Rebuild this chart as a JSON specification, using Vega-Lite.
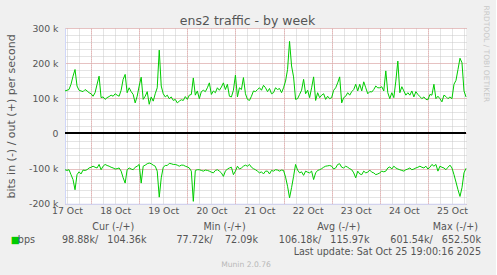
{
"$schema": "https://vega.github.io/schema/vega-lite/v6.json",
"background": "#F0F0F0",
"padding": {"left": 5, "top": 5, "right": 6, "bottom": 7},
"config": {"font": "DejaVu Sans", "view": {"stroke": null}},
"spacing": 23,
"bounds": "flush",
"datasets": {
"traffic": [
{"t":"2025-10-17T11:00","out":121,"in":-103},{"t":"2025-10-17T12:00","out":123,"in":-105},{"t":"2025-10-17T13:00","out":125,"in":-103},{"t":"2025-10-17T14:00","out":140,"in":-117},{"t":"2025-10-17T15:00","out":163,"in":-131},{"t":"2025-10-17T16:00","out":182,"in":-160},{"t":"2025-10-17T17:00","out":135,"in":-117},{"t":"2025-10-17T18:00","out":123,"in":-109},{"t":"2025-10-17T19:00","out":121,"in":-115},{"t":"2025-10-17T20:00","out":119,"in":-104},{"t":"2025-10-17T21:00","out":125,"in":-105},{"t":"2025-10-17T22:00","out":121,"in":-103},{"t":"2025-10-17T23:00","out":116,"in":-98},
{"t":"2025-10-18T00:00","out":113,"in":-96},{"t":"2025-10-18T01:00","out":106,"in":-93},{"t":"2025-10-18T02:00","out":116,"in":-96},{"t":"2025-10-18T03:00","out":140,"in":-98},{"t":"2025-10-18T04:00","out":163,"in":-88},{"t":"2025-10-18T05:00","out":102,"in":-103},{"t":"2025-10-18T06:00","out":104,"in":-93},{"t":"2025-10-18T07:00","out":97,"in":-88},{"t":"2025-10-18T08:00","out":102,"in":-91},{"t":"2025-10-18T09:00","out":105,"in":-93},{"t":"2025-10-18T10:00","out":109,"in":-96},{"t":"2025-10-18T11:00","out":106,"in":-98},{"t":"2025-10-18T12:00","out":113,"in":-101},{"t":"2025-10-18T13:00","out":109,"in":-100},{"t":"2025-10-18T14:00","out":106,"in":-98},{"t":"2025-10-18T15:00","out":123,"in":-107},{"t":"2025-10-18T16:00","out":154,"in":-126},{"t":"2025-10-18T17:00","out":168,"in":-141},{"t":"2025-10-18T18:00","out":116,"in":-103},{"t":"2025-10-18T19:00","out":130,"in":-98},{"t":"2025-10-18T20:00","out":119,"in":-101},{"t":"2025-10-18T21:00","out":111,"in":-103},{"t":"2025-10-18T22:00","out":87,"in":-96},{"t":"2025-10-18T23:00","out":106,"in":-93},
{"t":"2025-10-19T00:00","out":135,"in":-88},{"t":"2025-10-19T01:00","out":160,"in":-141},{"t":"2025-10-19T02:00","out":97,"in":-93},{"t":"2025-10-19T03:00","out":106,"in":-90},{"t":"2025-10-19T04:00","out":119,"in":-86},{"t":"2025-10-19T05:00","out":83,"in":-84},{"t":"2025-10-19T06:00","out":104,"in":-86},{"t":"2025-10-19T07:00","out":92,"in":-90},{"t":"2025-10-19T08:00","out":113,"in":-93},{"t":"2025-10-19T09:00","out":130,"in":-107},{"t":"2025-10-19T10:00","out":237,"in":-181},{"t":"2025-10-19T11:00","out":135,"in":-126},{"t":"2025-10-19T12:00","out":113,"in":-96},{"t":"2025-10-19T13:00","out":104,"in":-91},{"t":"2025-10-19T14:00","out":109,"in":-91},{"t":"2025-10-19T15:00","out":99,"in":-85},{"t":"2025-10-19T16:00","out":104,"in":-86},{"t":"2025-10-19T17:00","out":94,"in":-88},{"t":"2025-10-19T18:00","out":97,"in":-88},{"t":"2025-10-19T19:00","out":87,"in":-90},{"t":"2025-10-19T20:00","out":92,"in":-93},{"t":"2025-10-19T21:00","out":96,"in":-90},{"t":"2025-10-19T22:00","out":94,"in":-90},{"t":"2025-10-19T23:00","out":105,"in":-93},
{"t":"2025-10-20T00:00","out":97,"in":-95},{"t":"2025-10-20T01:00","out":109,"in":-98},{"t":"2025-10-20T02:00","out":111,"in":-107},{"t":"2025-10-20T03:00","out":158,"in":-193},{"t":"2025-10-20T04:00","out":109,"in":-105},{"t":"2025-10-20T05:00","out":121,"in":-103},{"t":"2025-10-20T06:00","out":99,"in":-103},{"t":"2025-10-20T07:00","out":119,"in":-105},{"t":"2025-10-20T08:00","out":123,"in":-107},{"t":"2025-10-20T09:00","out":119,"in":-104},{"t":"2025-10-20T10:00","out":130,"in":-105},{"t":"2025-10-20T11:00","out":144,"in":-107},{"t":"2025-10-20T12:00","out":111,"in":-110},{"t":"2025-10-20T13:00","out":121,"in":-112},{"t":"2025-10-20T14:00","out":116,"in":-105},{"t":"2025-10-20T15:00","out":130,"in":-103},{"t":"2025-10-20T16:00","out":123,"in":-107},{"t":"2025-10-20T17:00","out":132,"in":-112},{"t":"2025-10-20T18:00","out":144,"in":-122},{"t":"2025-10-20T19:00","out":125,"in":-107},{"t":"2025-10-20T20:00","out":140,"in":-101},{"t":"2025-10-20T21:00","out":106,"in":-98},{"t":"2025-10-20T22:00","out":104,"in":-96},{"t":"2025-10-20T23:00","out":123,"in":-117},
{"t":"2025-10-21T00:00","out":166,"in":-107},{"t":"2025-10-21T01:00","out":104,"in":-93},{"t":"2025-10-21T02:00","out":130,"in":-101},{"t":"2025-10-21T03:00","out":125,"in":-98},{"t":"2025-10-21T04:00","out":159,"in":-93},{"t":"2025-10-21T05:00","out":113,"in":-90},{"t":"2025-10-21T06:00","out":97,"in":-93},{"t":"2025-10-21T07:00","out":94,"in":-88},{"t":"2025-10-21T08:00","out":106,"in":-96},{"t":"2025-10-21T09:00","out":121,"in":-100},{"t":"2025-10-21T10:00","out":119,"in":-103},{"t":"2025-10-21T11:00","out":125,"in":-107},{"t":"2025-10-21T12:00","out":130,"in":-112},{"t":"2025-10-21T13:00","out":123,"in":-109},{"t":"2025-10-21T14:00","out":137,"in":-115},{"t":"2025-10-21T15:00","out":130,"in":-107},{"t":"2025-10-21T16:00","out":119,"in":-107},{"t":"2025-10-21T17:00","out":128,"in":-115},{"t":"2025-10-21T18:00","out":113,"in":-105},{"t":"2025-10-21T19:00","out":116,"in":-107},{"t":"2025-10-21T20:00","out":130,"in":-103},{"t":"2025-10-21T21:00","out":125,"in":-104},{"t":"2025-10-21T22:00","out":128,"in":-107},{"t":"2025-10-21T23:00","out":116,"in":-104},
{"t":"2025-10-22T00:00","out":130,"in":-105},{"t":"2025-10-22T01:00","out":149,"in":-124},{"t":"2025-10-22T02:00","out":182,"in":-150},{"t":"2025-10-22T03:00","out":262,"in":-183},{"t":"2025-10-22T04:00","out":192,"in":-154},{"t":"2025-10-22T05:00","out":161,"in":-122},{"t":"2025-10-22T06:00","out":97,"in":-88},{"t":"2025-10-22T07:00","out":99,"in":-104},{"t":"2025-10-22T08:00","out":111,"in":-112},{"t":"2025-10-22T09:00","out":123,"in":-109},{"t":"2025-10-22T10:00","out":154,"in":-119},{"t":"2025-10-22T11:00","out":113,"in":-107},{"t":"2025-10-22T12:00","out":123,"in":-110},{"t":"2025-10-22T13:00","out":102,"in":-112},{"t":"2025-10-22T14:00","out":130,"in":-107},{"t":"2025-10-22T15:00","out":161,"in":-131},{"t":"2025-10-22T16:00","out":94,"in":-112},{"t":"2025-10-22T17:00","out":116,"in":-105},{"t":"2025-10-22T18:00","out":102,"in":-103},{"t":"2025-10-22T19:00","out":109,"in":-100},{"t":"2025-10-22T20:00","out":113,"in":-96},{"t":"2025-10-22T21:00","out":97,"in":-93},{"t":"2025-10-22T22:00","out":106,"in":-92},{"t":"2025-10-22T23:00","out":99,"in":-91},
{"t":"2025-10-23T00:00","out":102,"in":-93},{"t":"2025-10-23T01:00","out":123,"in":-101},{"t":"2025-10-23T02:00","out":130,"in":-98},{"t":"2025-10-23T03:00","out":144,"in":-88},{"t":"2025-10-23T04:00","out":161,"in":-86},{"t":"2025-10-23T05:00","out":87,"in":-96},{"t":"2025-10-23T06:00","out":102,"in":-98},{"t":"2025-10-23T07:00","out":106,"in":-93},{"t":"2025-10-23T08:00","out":116,"in":-96},{"t":"2025-10-23T09:00","out":109,"in":-100},{"t":"2025-10-23T10:00","out":119,"in":-103},{"t":"2025-10-23T11:00","out":125,"in":-112},{"t":"2025-10-23T12:00","out":140,"in":-126},{"t":"2025-10-23T13:00","out":121,"in":-107},{"t":"2025-10-23T14:00","out":140,"in":-115},{"t":"2025-10-23T15:00","out":121,"in":-117},{"t":"2025-10-23T16:00","out":147,"in":-107},{"t":"2025-10-23T17:00","out":130,"in":-112},{"t":"2025-10-23T18:00","out":113,"in":-110},{"t":"2025-10-23T19:00","out":119,"in":-104},{"t":"2025-10-23T20:00","out":118,"in":-110},{"t":"2025-10-23T21:00","out":125,"in":-112},{"t":"2025-10-23T22:00","out":135,"in":-117},{"t":"2025-10-23T23:00","out":130,"in":-115},
{"t":"2025-10-24T00:00","out":130,"in":-112},{"t":"2025-10-24T01:00","out":133,"in":-107},{"t":"2025-10-24T02:00","out":121,"in":-109},{"t":"2025-10-24T03:00","out":178,"in":-107},{"t":"2025-10-24T04:00","out":116,"in":-98},{"t":"2025-10-24T05:00","out":99,"in":-95},{"t":"2025-10-24T06:00","out":116,"in":-101},{"t":"2025-10-24T07:00","out":102,"in":-93},{"t":"2025-10-24T08:00","out":149,"in":-98},{"t":"2025-10-24T09:00","out":206,"in":-101},{"t":"2025-10-24T10:00","out":116,"in":-103},{"t":"2025-10-24T11:00","out":133,"in":-105},{"t":"2025-10-24T12:00","out":121,"in":-107},{"t":"2025-10-24T13:00","out":109,"in":-103},{"t":"2025-10-24T14:00","out":116,"in":-101},{"t":"2025-10-24T15:00","out":109,"in":-98},{"t":"2025-10-24T16:00","out":121,"in":-103},{"t":"2025-10-24T17:00","out":104,"in":-101},{"t":"2025-10-24T18:00","out":119,"in":-98},{"t":"2025-10-24T19:00","out":111,"in":-96},{"t":"2025-10-24T20:00","out":105,"in":-93},{"t":"2025-10-24T21:00","out":99,"in":-96},{"t":"2025-10-24T22:00","out":104,"in":-98},{"t":"2025-10-24T23:00","out":97,"in":-93},
{"t":"2025-10-25T00:00","out":96,"in":-101},{"t":"2025-10-25T01:00","out":111,"in":-96},{"t":"2025-10-25T02:00","out":109,"in":-88},{"t":"2025-10-25T03:00","out":140,"in":-93},{"t":"2025-10-25T04:00","out":99,"in":-88},{"t":"2025-10-25T05:00","out":106,"in":-107},{"t":"2025-10-25T06:00","out":99,"in":-93},{"t":"2025-10-25T07:00","out":90,"in":-96},{"t":"2025-10-25T08:00","out":109,"in":-98},{"t":"2025-10-25T09:00","out":105,"in":-103},{"t":"2025-10-25T10:00","out":99,"in":-96},{"t":"2025-10-25T11:00","out":104,"in":-90},{"t":"2025-10-25T12:00","out":99,"in":-98},{"t":"2025-10-25T13:00","out":140,"in":-117},{"t":"2025-10-25T14:00","out":151,"in":-138},{"t":"2025-10-25T15:00","out":182,"in":-160},{"t":"2025-10-25T16:00","out":214,"in":-179},{"t":"2025-10-25T17:00","out":201,"in":-154},{"t":"2025-10-25T18:00","out":121,"in":-112},{"t":"2025-10-25T19:00","out":104,"in":-99}
],
"stats": [
{"row":"head","col":"Cur","kind":"label","text":"Cur (-/+)\u00a0\u00a0\u00a0\u00a0\u200b"},
{"row":"head","col":"Min","kind":"label","text":"Min (-/+)\u00a0\u00a0\u00a0\u00a0\u200b"},
{"row":"head","col":"Avg","kind":"label","text":"Avg (-/+)\u00a0\u00a0\u00a0\u200b"},
{"row":"head","col":"Max","kind":"label","text":"Max (-/+)\u00a0\u200b"},
{"row":"val","col":"lab","kind":"swatch","text":"\u25a0\u00a0\u00a0\u00a0\u00a0\u00a0\u200b"},
{"row":"val","col":"lab","kind":"label","text":"bps"},
{"row":"val","col":"Cur","kind":"label","text":"98.88k/\u00a0\u00a0\u00a0104.36k"},
{"row":"val","col":"Min","kind":"label","text":"77.72k/\u00a0\u00a0\u00a0\u00a072.09k"},
{"row":"val","col":"Avg","kind":"label","text":"106.18k/\u00a0\u00a0\u00a0115.97k"},
{"row":"val","col":"Max","kind":"label","text":"601.54k/\u00a0\u00a0\u00a0652.50k"},
{"row":"upd","col":"Max","kind":"label","text":"Last update: Sat Oct 25 19:00:16 2025"}
]
},
"vconcat": [
{
"width": 401,
"height": 175.83,
"view": {"fill": "#FFFFFF", "stroke": null},
"title": {"text": "ens2 traffic - by week", "fontSize": 12.5, "fontWeight": "normal", "color": "#555555", "anchor": "middle", "frame": "bounds", "offset": -22},
"data": {"name": "traffic"},
"layer": [
{
"mark": {"type": "line", "strokeWidth": 1, "color": "#00CC00"},
"encoding": {
"x": {"field": "t", "type": "temporal",
"scale": {"domain": [{"year": 2025, "month": 10, "date": 17, "hours": 11}, {"year": 2025, "month": 10, "date": 25, "hours": 19}]},
"axis": {"title": null, "values": [
{"year":2025,"month":10,"date":17,"hours":12},{"year":2025,"month":10,"date":17,"hours":18},
{"year":2025,"month":10,"date":18,"hours":0},{"year":2025,"month":10,"date":18,"hours":6},{"year":2025,"month":10,"date":18,"hours":12},{"year":2025,"month":10,"date":18,"hours":18},
{"year":2025,"month":10,"date":19,"hours":0},{"year":2025,"month":10,"date":19,"hours":6},{"year":2025,"month":10,"date":19,"hours":12},{"year":2025,"month":10,"date":19,"hours":18},
{"year":2025,"month":10,"date":20,"hours":0},{"year":2025,"month":10,"date":20,"hours":6},{"year":2025,"month":10,"date":20,"hours":12},{"year":2025,"month":10,"date":20,"hours":18},
{"year":2025,"month":10,"date":21,"hours":0},{"year":2025,"month":10,"date":21,"hours":6},{"year":2025,"month":10,"date":21,"hours":12},{"year":2025,"month":10,"date":21,"hours":18},
{"year":2025,"month":10,"date":22,"hours":0},{"year":2025,"month":10,"date":22,"hours":6},{"year":2025,"month":10,"date":22,"hours":12},{"year":2025,"month":10,"date":22,"hours":18},
{"year":2025,"month":10,"date":23,"hours":0},{"year":2025,"month":10,"date":23,"hours":6},{"year":2025,"month":10,"date":23,"hours":12},{"year":2025,"month":10,"date":23,"hours":18},
{"year":2025,"month":10,"date":24,"hours":0},{"year":2025,"month":10,"date":24,"hours":6},{"year":2025,"month":10,"date":24,"hours":12},{"year":2025,"month":10,"date":24,"hours":18},
{"year":2025,"month":10,"date":25,"hours":0},{"year":2025,"month":10,"date":25,"hours":6},{"year":2025,"month":10,"date":25,"hours":12},{"year":2025,"month":10,"date":25,"hours":18}],
"grid": true, "gridColor": "#c8c8c8", "gridDash": [1, 1], "ticks": false, "domainColor": "#CFD6F8", "labelExpr": "hours(datum.value) == 12 ? timeFormat(datum.value, '%d %b') : ''", "labelOverlap": false, "labelFlush": false, "labelBound": false, "labelFontSize": 9.3, "labelColor": "#555555", "labelPadding": 3}},
"y": {"field": "out", "type": "quantitative",
"scale": {"domain": [-200, 300], "nice": false, "zero": false},
"axis": {"title": "bits in (-) / out (+) per second", "values": [-200,-180,-160,-140,-120,-100,-80,-60,-40,-20,0,20,40,60,80,100,120,140,160,180,200,220,240,260,280,300], "grid": true, "gridColor": "#c8c8c8", "gridDash": [1, 1], "ticks": false, "domainColor": "#CFD6F8", "labelExpr": "datum.value % 100 == 0 ? (datum.value == 0 ? '0' : datum.value + ' k') : ''", "labelOverlap": false, "labelFontSize": 9.3, "labelColor": "#555555", "labelPadding": 7, "labelBound": false, "labelFlush": false, "titleFontSize": 11, "titleFontWeight": "normal", "titleColor": "#555555", "titlePadding": 12}}
}
},
{
"mark": {"type": "line", "strokeWidth": 1, "color": "#00CC00"},
"encoding": {
"x": {"field": "t", "type": "temporal",
"axis": {"title": null, "values": [
{"year":2025,"month":10,"date":18,"hours":0},{"year":2025,"month":10,"date":19,"hours":0},{"year":2025,"month":10,"date":20,"hours":0},{"year":2025,"month":10,"date":21,"hours":0},
{"year":2025,"month":10,"date":22,"hours":0},{"year":2025,"month":10,"date":23,"hours":0},{"year":2025,"month":10,"date":24,"hours":0},{"year":2025,"month":10,"date":25,"hours":0}],
"grid": true, "gridColor": "#e8a0a0", "gridDash": [1, 1], "labels": false, "ticks": false, "domain": false}},
"y": {"field": "in", "type": "quantitative",
"scale": {"domain": [-200, 300], "nice": false, "zero": false},
"axis": {"orient": "right", "title": "RRDTOOL / TOBI OETIKER", "values": [-200, -100, 0, 100, 200, 300], "grid": true, "gridColor": "#e8a0a0", "gridDash": [1, 1], "labels": false, "ticks": false, "domain": false, "titleFontSize": 7.5, "titleColor": "#c8c8c8", "titleFontWeight": "normal", "titleAngle": 90, "titleX": 19.5, "titleY": -23, "titleAlign": "left", "titleBaseline": "middle"}}
}
},
{
"mark": {"type": "rule", "color": "#000000", "strokeWidth": 1},
"encoding": {
"y": {"datum": 0, "type": "quantitative", "axis": null}
}
}
],
"resolve": {"axis": {"x": "independent", "y": "independent"}}
},
{
"width": 416,
"height": 25,
"data": {"name": "stats"},
"title": {"text": "Munin 2.0.76", "orient": "bottom", "fontSize": 7.6, "fontWeight": "normal", "color": "#b8b8b8", "anchor": "middle", "frame": "group", "dx": -27, "offset": 4},
"mark": {"type": "text", "align": "right", "baseline": "middle", "fontSize": 9.6},
"encoding": {
"x": {"field": "col", "type": "nominal", "scale": {"type": "point", "domain": ["lab", "Cur", "Min", "Avg", "Max"], "range": [-30, 416], "padding": 0}, "axis": null},
"y": {"field": "row", "type": "nominal", "scale": {"type": "point", "domain": ["head", "val", "upd"], "range": [0, 25], "padding": 0}, "axis": null},
"color": {"field": "kind", "type": "nominal", "scale": {"domain": ["label", "swatch"], "range": ["#555555", "#00CC00"]}, "legend": null},
"text": {"field": "text"}
}
}
]
}
